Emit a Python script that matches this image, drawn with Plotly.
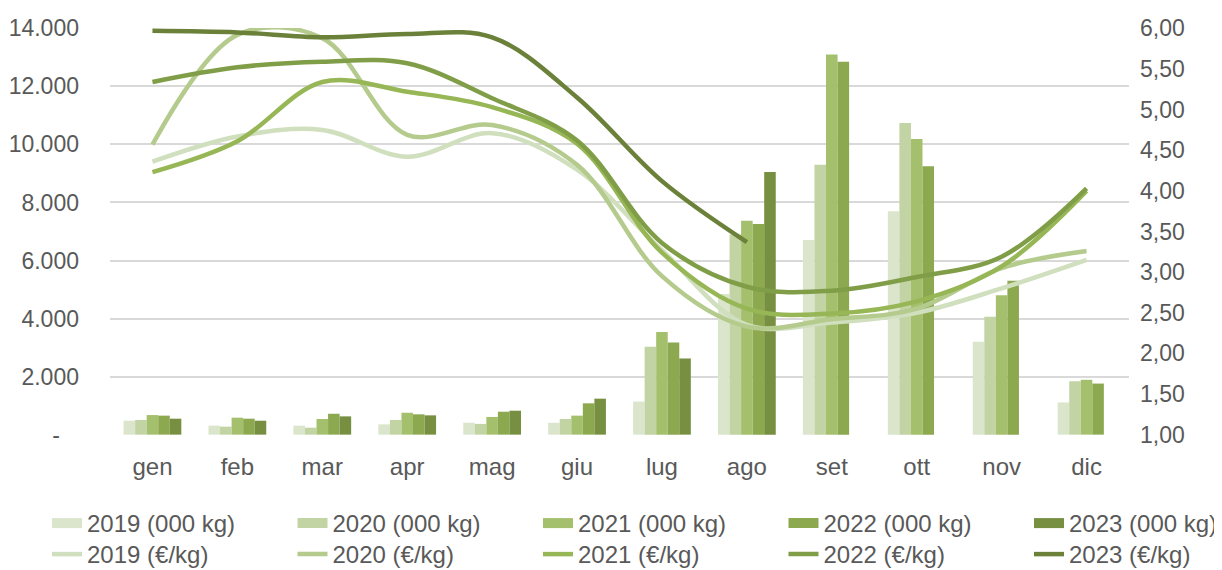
import plotly.graph_objects as go

months = ["gen", "feb", "mar", "apr", "mag", "giu", "lug", "ago", "set", "ott", "nov", "dic"]

years = ["2019", "2020", "2021", "2022", "2023"]

kg_2019 = [480, 310, 310, 355, 410, 410, 1140, 4850, 6710, 7700, 3200, 1110]
kg_2020 = [505, 275, 240, 505, 370, 540, 3030, 6900, 9300, 10740, 4060, 1840]
kg_2021 = [675, 585, 540, 755, 610, 655, 3540, 7370, 13100, 10190, 4800, 1890]
kg_2022 = [655, 550, 720, 700, 790, 1080, 3175, 7260, 12850, 9250, 5300, 1760]
kg_2023 = [550, 480, 630, 665, 825, 1240, 2625, 9050, None, None, None, None]

eur_2019 = [4.36, 4.67, 4.75, 4.42, 4.71, 4.26, 3.27, 2.35, 2.38, 2.50, 2.80, 3.15]
eur_2020 = [4.57, 5.92, 5.88, 4.69, 4.81, 4.32, 2.95, 2.33, 2.42, 2.55, 3.05, 3.26]
eur_2021 = [4.23, 4.61, 5.34, 5.22, 5.03, 4.58, 3.24, 2.55, 2.49, 2.64, 3.07, 4.00]
eur_2022 = [5.34, 5.52, 5.59, 5.57, 5.14, 4.62, 3.36, 2.82, 2.77, 2.94, 3.19, 4.03]
eur_2023 = [5.97, 5.95, 5.89, 5.93, 5.89, 5.15, 4.12, 3.37, None, None, None, None]

left_tickvals = [0, 2000, 4000, 6000, 8000, 10000, 12000, 14000]
left_ticktext = ["-\u00a0\u00a0\u00a0", "2.000", "4.000", "6.000", "8.000", "10.000", "12.000", "14.000"]
right_tickvals = [1.0, 1.5, 2.0, 2.5, 3.0, 3.5, 4.0, 4.5, 5.0, 5.5, 6.0]
right_ticktext = ["1,00", "1,50", "2,00", "2,50", "3,00", "3,50", "4,00", "4,50", "5,00", "5,50", "6,00"]

kg_series = [kg_2019, kg_2020, kg_2021, kg_2022, kg_2023]
eur_series = [eur_2019, eur_2020, eur_2021, eur_2022, eur_2023]

bar_colors = ["#dbe5cb", "#c2d3a4", "#a4c06c", "#8ca950", "#778f41"]
line_colors = ["#d0dfbe", "#b5cb8d", "#97b655", "#809e48", "#6b8039"]

font_color = "#595959"
FONT = "Liberation Sans, Arial, sans-serif"

# layout geometry (pixels); the page body adds an 8px offset
W, H = 1222, 570
OFF = 8
ML, MT = 110 - OFF, 28 - OFF
PW, PH = 1019, 407
MR = W - ML - PW
MB = H - MT - PH

# left axis range padded a hair so the 0 and 14.000 gridlines are drawn
pad = 12
y1_range = [0 - pad, 14000 + pad]
scale = (6.0 - 1.0) / 14000.0
y2_range = [1.0 + y1_range[0] * scale, 1.0 + y1_range[1] * scale]

# one legend per entry so both rows sit exactly like the original
kg_legends = ["legend", "legend2", "legend3", "legend4", "legend5"]
eur_legends = ["legend6", "legend7", "legend8", "legend9", "legend10"]

fig = go.Figure()

for yr, vals, col in zip(years, kg_series, bar_colors):
    fig.add_trace(go.Bar(
        x=months, y=vals, name=f"{yr} (000 kg)", marker_color=col,
        marker_line_width=0, legendgroup=f"kg{yr}", showlegend=False,
        yaxis="y",
    ))

# legend swatches for the bars (wide rectangles like the original)
for yr, col, lg in zip(years, bar_colors, kg_legends):
    fig.add_trace(go.Scatter(
        x=[None], y=[None], mode="lines", name=f"{yr} (000 kg)",
        line=dict(color=col, width=14), legendgroup=f"kg{yr}", showlegend=True,
        legend=lg, hoverinfo="skip",
    ))

for yr, vals, col, lg in zip(years, eur_series, line_colors, eur_legends):
    fig.add_trace(go.Scatter(
        x=months, y=vals, name=f"{yr} (€/kg)", mode="lines",
        line=dict(color=col, width=4.5, shape="spline", smoothing=1.0),
        yaxis="y2", legendgroup=f"eur{yr}", connectgaps=False, legend=lg,
    ))

# legend box tops in page pixels
row_tops = [501, 532]
legend_common = dict(
    orientation="v", xanchor="left", yanchor="top",
    font=dict(family=FONT, size=24, color=font_color), traceorder="normal",
    bgcolor="rgba(0,0,0,0)", itemwidth=30,
)

layout_legends = {}
for r, names in enumerate([kg_legends, eur_legends]):
    for i, lg in enumerate(names):
        left_px = 47 - OFF + 245.5 * i
        d = dict(legend_common)
        d["x"] = (left_px - ML) / PW
        d["y"] = -(row_tops[r] - OFF - (MT + PH)) / PH
        layout_legends[lg] = d

fig.update_layout(
    width=W, height=H,
    margin=dict(l=ML, r=MR, t=MT, b=MB, autoexpand=False),
    paper_bgcolor="white", plot_bgcolor="white",
    font=dict(family=FONT, size=23, color=font_color),
    barmode="group", bargap=0.32, bargroupgap=0.0,
    xaxis=dict(
        type="category", showgrid=False, showline=False, ticks="",
        tickfont=dict(family=FONT, size=24, color=font_color), ticklabelstandoff=15,
        range=[-0.5, 11.5], automargin=False,
    ),
    yaxis=dict(
        range=y1_range, tickvals=left_tickvals, ticktext=left_ticktext,
        showgrid=True, gridcolor="#d9d9d9", gridwidth=1.5, zeroline=False,
        showline=False, ticks="", ticklabelstandoff=30, automargin=False,
        tickfont=dict(family=FONT, size=23, color=font_color),
    ),
    yaxis2=dict(
        range=y2_range, tickvals=right_tickvals, ticktext=right_ticktext,
        overlaying="y", side="right", showgrid=False, zeroline=False,
        showline=False, ticks="", ticklabelstandoff=10, automargin=False,
        tickfont=dict(family=FONT, size=23, color=font_color),
    ),
    **layout_legends,
)

fig.write_html("out.html")
